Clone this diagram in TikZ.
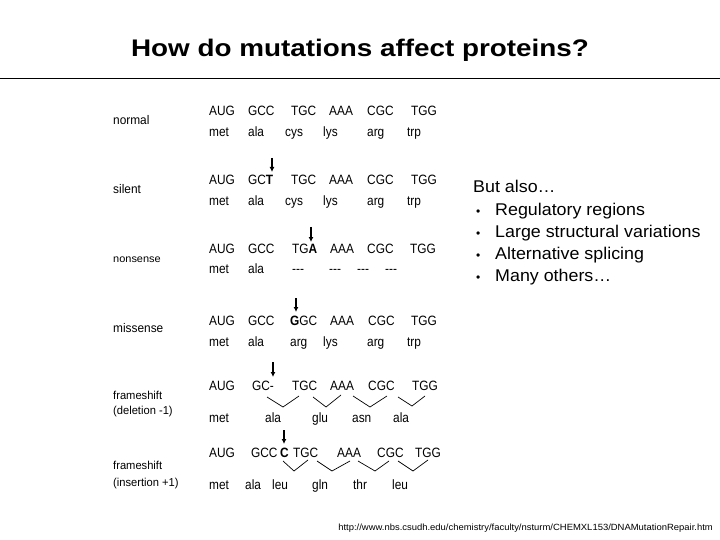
\documentclass[tikz,border=0pt]{standalone}
\usepackage{fontspec}
\setmainfont{Liberation Sans}
\usetikzlibrary{arrows.meta}
\begin{document}
\begin{tikzpicture}[x=1pt,y=-1pt,
  cod/.style={anchor=base west,inner sep=0pt,xscale=0.88,font=\fontsize{13.5}{15}\selectfont},
  lab/.style={anchor=base west,inner sep=0pt,xscale=0.95,font=\fontsize{12.5}{14}\selectfont},
  slab/.style={anchor=base west,inner sep=0pt,xscale=0.97,font=\fontsize{11.5}{12}\selectfont},
  mut/.style={line width=1.1pt,-{Latex[length=5pt,width=5pt]}},
  vline/.style={line width=0.7pt},
  bul/.style={anchor=base west,inner sep=0pt,xscale=1.05,font=\fontsize{17}{19}\selectfont},
  dot/.style={anchor=base west,inner sep=0pt,font=\fontsize{12}{14}\selectfont}]
\useasboundingbox (0,0) rectangle (720,540);
\fill[white] (0,0) rectangle (720,540);
% title
\node[inner sep=0pt,font=\bfseries\fontsize{24}{28}\selectfont,xscale=1.16] (title) at (360,50) {How do mutations affect proteins?};
\coordinate (hl) at (0,78); \coordinate (hr) at (720,78);
\draw[line width=0.8pt] (hl) -- (hr);
% labels
\node[lab] (lnormal) at (113,125) {normal};
\node[lab,xscale=1.1,font=\fontsize{10.5}{12}\selectfont] (lnons) at (113,262) {nonsense};
\node[lab] (lsilent) at (113,194) {silent};
\node[lab] (lmiss) at (113,332) {missense};
\node[slab] (ldel1) at (113,399) {frameshift};
\node[slab] (ldel2) at (113,414) {(deletion -1)};
\node[slab] (lins1) at (113,469) {frameshift};
\node[slab] (lins2) at (113,486) {(insertion +1)};
% normal
\node[cod] (n1) at (209,116) {AUG};
\node[cod] (n2) at (248,116) {GCC};
\node[cod] (n3) at (291,116) {TGC};
\node[cod] (n4) at (329,116) {AAA};
\node[cod] (n5) at (367,116) {CGC};
\node[cod] (n6) at (411,116) {TGG};
\node[cod] (na1) at (209,137) {met};
\node[cod] (na2) at (248,137) {ala};
\node[cod] (na3) at (285,137) {cys};
\node[cod] (na4) at (323,137) {lys};
\node[cod] (na5) at (367,137) {arg};
\node[cod] (na6) at (407,137) {trp};
% silent
\node[cod] (s1) at (209,185) {AUG};
\node[cod] (s2) at (248,185) {GC\textbf{T}};
\node[cod] (s3) at (291,185) {TGC};
\node[cod] (s4) at (329,185) {AAA};
\node[cod] (s5) at (367,185) {CGC};
\node[cod] (s6) at (411,185) {TGG};
\node[cod] (sa1) at (209,206) {met};
\node[cod] (sa2) at (248,206) {ala};
\node[cod] (sa3) at (285,206) {cys};
\node[cod] (sa4) at (323,206) {lys};
\node[cod] (sa5) at (367,206) {arg};
\node[cod] (sa6) at (407,206) {trp};
\coordinate (sA) at (272,158); \coordinate (sB) at (272,172);
\draw[mut] (sA) -- (sB);
% nonsense
\node[cod] (o1) at (209,253) {AUG};
\node[cod] (o2) at (248,253) {GCC};
\node[cod] (o3) at (292,253) {TG\textbf{A}};
\node[cod] (o4) at (330,253) {AAA};
\node[cod] (o5) at (367,253) {CGC};
\node[cod] (o6) at (410,253) {TGG};
\node[cod] (oa1) at (209,273) {met};
\node[cod] (oa2) at (248,273) {ala};
\node[cod] (oa3) at (292,273) {{-}{-}{-}};
\node[cod] (oa4) at (329,273) {{-}{-}{-}};
\node[cod] (oa5) at (357,273) {{-}{-}{-}};
\node[cod] (oa6) at (385,273) {{-}{-}{-}};
\coordinate (oA) at (311,227); \coordinate (oB) at (311,242);
\draw[mut] (oA) -- (oB);
% missense
\node[cod] (m1) at (209,325) {AUG};
\node[cod] (m2) at (248,325) {GCC};
\node[cod] (m3) at (290,325) {\textbf{G}GC};
\node[cod] (m4) at (330,325) {AAA};
\node[cod] (m5) at (368,325) {CGC};
\node[cod] (m6) at (411,325) {TGG};
\node[cod] (ma1) at (209,346) {met};
\node[cod] (ma2) at (248,346) {ala};
\node[cod] (ma3) at (290,346) {arg};
\node[cod] (ma4) at (323,346) {lys};
\node[cod] (ma5) at (367,346) {arg};
\node[cod] (ma6) at (407,346) {trp};
\coordinate (mA) at (296,298); \coordinate (mB) at (296,312);
\draw[mut] (mA) -- (mB);
% deletion
\node[cod] (d1) at (209,390) {AUG};
\node[cod] (d2) at (252,390) {GC-};
\node[cod] (d3) at (292,390) {TGC};
\node[cod] (d4) at (330,390) {AAA};
\node[cod] (d5) at (368,390) {CGC};
\node[cod] (d6) at (412,390) {TGG};
\node[cod] (da1) at (209,422) {met};
\node[cod] (da2) at (265,422) {ala};
\node[cod] (da3) at (312,422) {glu};
\node[cod] (da4) at (352,422) {asn};
\node[cod] (da5) at (393,422) {ala};
\coordinate (dA) at (273,362); \coordinate (dB) at (273,377);
\draw[mut] (dA) -- (dB);
\coordinate (dv1a) at (267,397); \coordinate (dv1b) at (283,407); \coordinate (dv1c) at (299,396);
\coordinate (dv2a) at (313,397); \coordinate (dv2b) at (326,407); \coordinate (dv2c) at (341,395);
\coordinate (dv3a) at (353,396); \coordinate (dv3b) at (370,407); \coordinate (dv3c) at (387,396);
\coordinate (dv4a) at (398,397); \coordinate (dv4b) at (412,406); \coordinate (dv4c) at (425,396);
\draw[vline] (dv1a) -- (dv1b) -- (dv1c);
\draw[vline] (dv2a) -- (dv2b) -- (dv2c);
\draw[vline] (dv3a) -- (dv3b) -- (dv3c);
\draw[vline] (dv4a) -- (dv4b) -- (dv4c);
% insertion
\node[cod] (i1) at (209,457) {AUG};
\node[cod] (i2) at (251,457) {GCC};
\node[cod] (i3) at (280,457) {\textbf{C}};
\node[cod] (i4) at (293,457) {TGC};
\node[cod] (i5) at (337,457) {AAA};
\node[cod] (i6) at (377,457) {CGC};
\node[cod] (i7) at (415,457) {TGG};
\node[cod] (ia1) at (209,489) {met};
\node[cod] (ia2) at (245,489) {ala};
\node[cod] (ia3) at (272,489) {leu};
\node[cod] (ia4) at (312,489) {gln};
\node[cod] (ia5) at (353,489) {thr};
\node[cod] (ia6) at (392,489) {leu};
\coordinate (iA) at (284,430); \coordinate (iB) at (284,444);
\draw[mut] (iA) -- (iB);
\coordinate (iv1a) at (283,461); \coordinate (iv1b) at (294,471); \coordinate (iv1c) at (308,460);
\coordinate (iv2a) at (317,461); \coordinate (iv2b) at (332,471); \coordinate (iv2c) at (350,461);
\coordinate (iv3a) at (358,461); \coordinate (iv3b) at (375,471); \coordinate (iv3c) at (389,461);
\coordinate (iv4a) at (398,461); \coordinate (iv4b) at (413,471); \coordinate (iv4c) at (428,460);
\draw[vline] (iv1a) -- (iv1b) -- (iv1c);
\draw[vline] (iv2a) -- (iv2b) -- (iv2c);
\draw[vline] (iv3a) -- (iv3b) -- (iv3c);
\draw[vline] (iv4a) -- (iv4b) -- (iv4c);
% right text
\node[bul] (but) at (473,193) {But also\ldots};
\node[dot] (b1d) at (476,215) {•};
\node[bul] (b1) at (495,215) {Regulatory regions};
\node[dot] (b2d) at (476,237) {•};
\node[bul] (b2) at (495,237) {Large structural variations};
\node[dot] (b3d) at (476,259) {•};
\node[bul] (b3) at (495,259) {Alternative splicing};
\node[dot] (b4d) at (476,281) {•};
\node[bul] (b4) at (495,281) {Many others\ldots};
% url
\node[anchor=east,inner sep=0pt,font=\fontsize{9}{10}\selectfont,xscale=1.05] (url) at (713,528) {http://www.nbs.csudh.edu/chemistry/faculty/nsturm/CHEMXL153/DNAMutationRepair.htm};
\end{tikzpicture}
\end{document}
